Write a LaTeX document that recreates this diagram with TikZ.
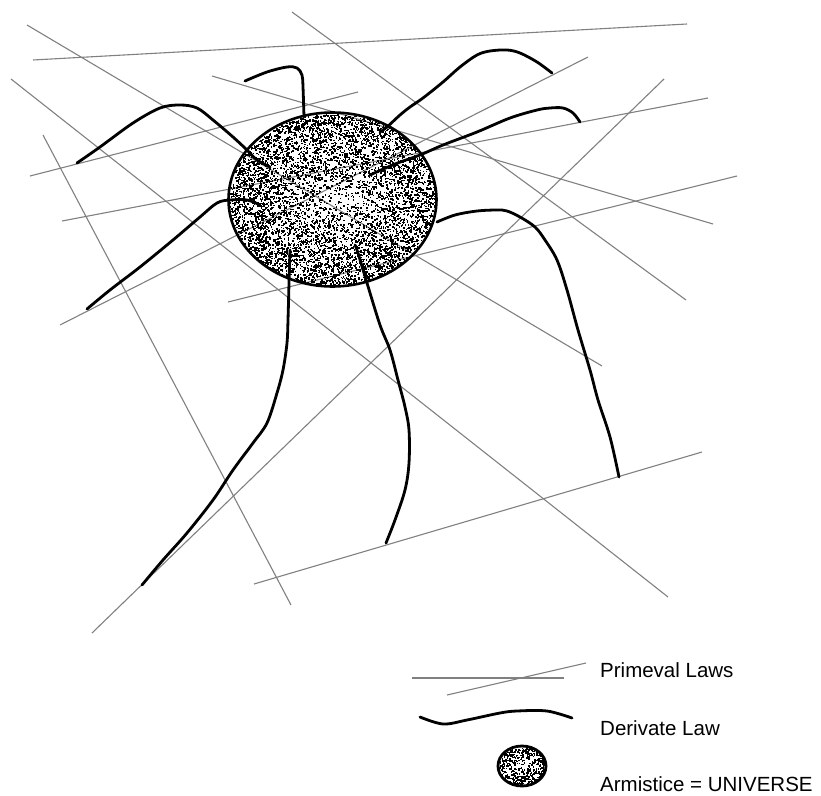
\documentclass[tikz,border=0pt]{standalone}
\usepackage{fontspec}
\setmainfont{Liberation Sans}
\begin{document}
\begin{tikzpicture}[x=1pt,y=-1pt,
  primeval/.style={draw=gray, line width=1.1pt},
  derivate/.style={draw=black, line width=2.8pt, line cap=round, line join=round},
  lbl/.style={anchor=base west, inner sep=0pt, font=\fontsize{20.5}{24}\selectfont},
  dot/.style={fill=black}]
\useasboundingbox (0,0) rectangle (821,795);
% primeval laws (grey straight lines)
\draw[primeval] (33,60) -- (687,24);
\draw[primeval] (292,12) -- (686,300);
\draw[primeval] (27,25) -- (602,366);
\draw[primeval] (11,79) -- (668,597);
\draw[primeval] (43,135) -- (291,605);
\draw[primeval] (30,176) -- (358,92);
\draw[primeval] (212,76) -- (713,224);
\draw[primeval] (62,221) -- (708,98);
\draw[primeval] (60,325) -- (588,57);
\draw[primeval] (228,302) -- (737,176);
\draw[primeval] (92,633) -- (664,79);
\draw[primeval] (254,584) -- (702,452);
% armistice = universe (stippled ellipse)
\coordinate (U) at (332.5,199.5);
\pgfmathsetseed{7}
\foreach \i in {1,...,6500}{
  \pgfmathsetmacro\ang{360*rnd}
  \pgfmathsetmacro\rad{pow(rnd,0.4)}
  \fill[dot] ({332.5+103*\rad*cos(\ang)},{199.5+86*\rad*sin(\ang)}) rectangle ++(1.5,1.5);
}
\draw[line width=2.6pt] (U) ellipse [x radius=104, y radius=87];
% derivate laws (thick black curves)
\draw[derivate] plot[smooth, tension=0.55] coordinates {(245,81) (267,72) (287,67) (297,68) (302,75) (303,87) (304,117)};
\draw[derivate] plot[smooth, tension=0.55] coordinates {(77,163) (100,147) (133,123) (160,108) (180,105) (197,108) (213,120) (233,137) (247,150) (257,160) (270,167)};
\draw[derivate] plot[smooth, tension=0.55] coordinates {(87,309) (110,290) (140,267) (173,240) (200,217) (217,203) (230,200) (247,200) (260,205)};
\draw[derivate] plot[smooth, tension=0.55] coordinates {(142,585) (163,560) (187,533) (213,500) (233,470) (253,443) (267,423) (277,393) (283,370) (287,343) (288,320) (289,283) (290,250)};
\draw[derivate] plot[smooth, tension=0.55] coordinates {(386,543) (395,520) (405,490) (409,463) (409,430) (405,407) (398,380) (390,350) (380,325) (367,283) (358,253) (355,245)};
\draw[derivate] plot[smooth, tension=0.55] coordinates {(437,222) (455,215) (477,211) (497,210) (507,211) (520,217) (535,227) (545,240) (557,260) (567,290) (578,330) (590,370) (598,400) (610,437) (619,477)};
\draw[derivate] plot[smooth, tension=0.55] coordinates {(552,73) (537,62) (520,53) (507,50) (490,51) (477,55) (460,67) (443,82) (423,98) (410,107) (400,115) (387,127) (380,132)};
\draw[derivate] plot[smooth, tension=0.55] coordinates {(580,122) (573,113) (563,108) (550,108) (537,110) (510,118) (477,132) (443,145) (420,155) (395,164) (370,175)};
% legend
\draw[primeval] (412,678) -- (564,678);
\draw[primeval] (447,695) -- (586,663);
\node[lbl] (lp) at (600,677) {Primeval Laws};
\draw[derivate] plot[smooth, tension=0.55] coordinates {(420,717) (443,724) (467,720) (500,713) (517,711) (547,711) (572,718)};
\node[lbl] (ld) at (600,735) {Derivate Law};
\coordinate (UL) at (522,766);
\foreach \i in {1,...,420}{
  \pgfmathsetmacro\ang{360*rnd}
  \pgfmathsetmacro\rad{pow(rnd,0.4)}
  \fill[dot] ({522+23*\rad*cos(\ang)},{766+19*\rad*sin(\ang)}) rectangle ++(1.5,1.5);
}
\draw[line width=2.8pt] (UL) ellipse [x radius=24, y radius=20];
\node[lbl] (la) at (600,791) {Armistice = UNIVERSE};
\end{tikzpicture}
\end{document}
